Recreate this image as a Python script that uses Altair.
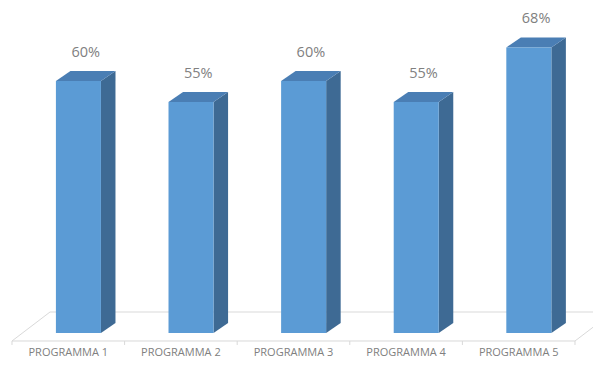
import altair as alt
import pandas as pd

# ---- data ----
categories = ["PROGRAMMA 1", "PROGRAMMA 2", "PROGRAMMA 3", "PROGRAMMA 4", "PROGRAMMA 5"]
values = [60, 55, 60, 55, 68]
value_labels = ["60%", "55%", "60%", "55%", "68%"]

# ---- geometry / style constants (scale units) ----
FRONT_L = 0.39      # front face left edge within the category slot
FRONT_W = 0.40      # front face width
DX = 0.129          # 3D depth in x units
DY = 2.38           # 3D depth in y units
FLOOR_Y = -1.905    # floor front edge
FLOOR_DX = 0.3375
FLOOR_DY = 6.9
TICK_LEN = 0.95

FRONT = "#5B9BD5"
SIDE = "#3E6A94"
TOP = "#4A7EB4"
GRID = "#D9D9D9"
TXT = "#808080"
FONT = "Open Sans"

n = len(categories)
idx = list(range(n))

bars = pd.DataFrame({"cat": categories, "i": idx, "v": values, "lab": value_labels})
bars["x1"] = bars["i"] + FRONT_L
bars["x2"] = bars["i"] + FRONT_L + FRONT_W
bars["lx"] = bars["i"] + FRONT_L + FRONT_W / 2 + DX / 2
bars["cx"] = bars["i"] + 0.5

side_rows = []
top_rows = []
for c, i, v in zip(categories, idx, values):
    r = i + FRONT_L + FRONT_W
    l = i + FRONT_L
    side_rows.append({"cat": c, "x": r, "y": 0, "y2": v})
    side_rows.append({"cat": c, "x": r + DX, "y": DY, "y2": v + DY})
    top_rows.append({"cat": c, "y": v, "x": l, "x2": r})
    top_rows.append({"cat": c, "y": v + DY, "x": l + DX, "x2": r + DX})
side = pd.DataFrame(side_rows)
top = pd.DataFrame(top_rows)

floor = pd.DataFrame({
    "o": [0, 1, 2, 3, 4],
    "x": [0, FLOOR_DX, n + FLOOR_DX, n, 0],
    "y": [FLOOR_Y, FLOOR_Y + FLOOR_DY, FLOOR_Y + FLOOR_DY, FLOOR_Y, FLOOR_Y],
})
ticks = pd.DataFrame({"x": list(range(n + 1))})
ticks["y"] = FLOOR_Y
ticks["y2"] = FLOOR_Y - TICK_LEN

xs = alt.Scale(domain=[-0.0355, 5.1599], nice=False, zero=False)
ys = alt.Scale(domain=[-6.43, 77.38], nice=False, zero=False)
X = lambda f: alt.X(f, type="quantitative", scale=xs, axis=None)
Y = lambda f: alt.Y(f, type="quantitative", scale=ys, axis=None)

floor_l = alt.Chart(floor).mark_line(color=GRID, strokeWidth=1).encode(
    x=X("x"), y=Y("y"), order="o:Q")
tick_l = alt.Chart(ticks).mark_rule(color=GRID, strokeWidth=1).encode(
    x=X("x"), y=Y("y"), y2="y2")
side_l = alt.Chart(side).mark_area(color=SIDE).encode(
    x=X("x"), y=Y("y"), y2="y2", detail="cat:N")
top_l = alt.Chart(top).mark_area(color=TOP, orient="horizontal").encode(
    y=Y("y"), x=X("x"), x2="x2", detail="cat:N")
front_l = alt.Chart(bars).mark_rect(color=FRONT).encode(
    x=X("x1"), x2="x2", y=Y("v"), y2=alt.datum(0))
lab_l = alt.Chart(bars).mark_text(
    color=TXT, font=FONT, fontSize=14.5, baseline="middle", dy=-28).encode(
    x=X("lx"), y=Y("v"), text="lab:N")
cat_l = alt.Chart(bars).mark_text(
    color=TXT, font=FONT, fontSize=11, baseline="middle", dy=12.5).encode(
    x=X("cx"), y=alt.datum(FLOOR_Y, scale=ys), text="cat:N")

chart = alt.layer(floor_l, tick_l, side_l, top_l, front_l, lab_l, cat_l).properties(
    width=585, height=352, padding=0,
    autosize=alt.AutoSizeParams(type="none"),
    background="white",
).configure_view(stroke=None)

chart.save("out.html", embed_options={"renderer": "svg", "actions": False})
